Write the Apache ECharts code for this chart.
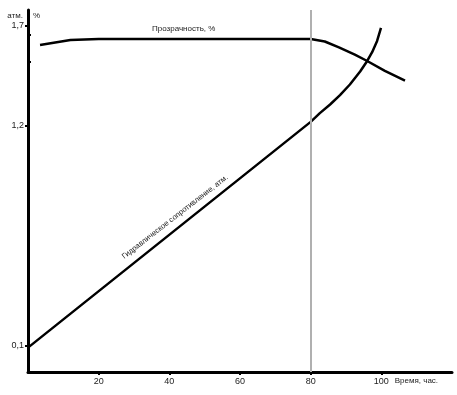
<!DOCTYPE html>
<html>
<head>
<meta charset="utf-8">
<script src="https://cdn.jsdelivr.net/npm/echarts@6/dist/echarts.min.js"></script>
<style>html,body{margin:0;padding:0;background:#fff}#c{width:457px;height:395px}</style>
</head>
<body>
<div id="c"></div>
<script>
// Tick labels
const xTicks = [20, 40, 60, 80, 100];
const atmTicks = [0.1, 1.2, 1.7];
const pctTicks = [90, 100];
// Hydraulic resistance, atm
const hydX = [0, 80, 82.6, 85.5, 88.3, 91.1, 94, 96, 97.4, 98.8, 99.9];
const hydY = [0.09, 1.22, 1.264, 1.307, 1.354, 1.407, 1.472, 1.525, 1.569, 1.625, 1.69];
// Transparency, %
const trX = [3.4, 12, 20, 80, 84, 88, 92.5, 96, 101, 106.7];
const trY = [96.3, 98.2, 98.5, 98.5, 97.6, 95.4, 92.7, 90.3, 86.6, 82.9];
// Vertical marker (time, h)
const markerX = 80;

const FONT = 'Liberation Sans';
const chart = echarts.init(document.getElementById('c'));
const zip = (a, b) => a.map((v, i) => [v, b[i]]);

chart.setOption({
  animation: false,
  backgroundColor: '#fff',
  grid: { left: 28, right: 5, top: 10, bottom: 23 },
  xAxis: {
    type: 'value', min: 0, max: 120,
    name: 'Время, час.', nameLocation: 'end', nameGap: -63,
    nameTextStyle: { fontFamily: FONT, fontSize: 8, color: '#222', align: 'left', verticalAlign: 'top', padding: [5, 0, 0, 0] },
    axisLine: { show: true, onZero: false, lineStyle: { color: '#000', width: 3 } },
    axisTick: { show: true, customValues: xTicks, length: 3, lineStyle: { color: '#000', width: 2 } },
    axisLabel: { customValues: xTicks, margin: 5, fontFamily: FONT, fontSize: 9, color: '#222' },
    splitLine: { show: false }
  },
  yAxis: [
    {
      type: 'value', min: -0.032, max: 1.78, position: 'left',
      name: 'атм.', nameLocation: 'end', nameGap: -10,
      nameTextStyle: { fontFamily: FONT, fontSize: 8, color: '#222', align: 'right', padding: [0, 5, 0, 0] },
      axisLine: { show: true, onZero: false, lineStyle: { color: '#000', width: 3 } },
      axisTick: { show: true, customValues: atmTicks, length: 3, lineStyle: { color: '#000', width: 2 } },
      axisLabel: { customValues: atmTicks, margin: 4, fontFamily: FONT, fontSize: 9, color: '#222',
                   formatter: v => String(v).replace('.', ',') },
      splitLine: { show: false }
    },
    {
      type: 'value', min: -26.2, max: 109.4, position: 'left', offset: 0,
      name: '%', nameLocation: 'end', nameGap: -10,
      nameTextStyle: { fontFamily: FONT, fontSize: 8, color: '#222', align: 'left', padding: [0, 0, 0, 5] },
      axisLine: { show: false },
      axisTick: { show: true, inside: true, customValues: pctTicks, length: 3, lineStyle: { color: '#000', width: 2 } },
      axisLabel: { show: false },
      splitLine: { show: false }
    }
  ],
  graphic: [
    { type: 'text', left: 152, top: 25, z: 10,
      style: { text: 'Прозрачность, %', font: '8px "Liberation Sans"', fill: '#222' } },
    { type: 'text', x: 175, y: 217, rotation: 0.66, z: 10,
      style: { text: 'Гидравлическое сопротивление, атм.', font: '7.6px "Liberation Sans"', fill: '#222',
               align: 'center', verticalAlign: 'middle' } }
  ],
  series: [
    {
      type: 'line', xAxisIndex: 0, yAxisIndex: 0, data: [], z: 1,
      markLine: { silent: true, symbol: 'none', label: { show: false },
                  lineStyle: { color: '#b0b0b0', type: 'solid', width: 2 },
                  data: [{ xAxis: markerX }] }
    },
    {
      name: 'Гидравлическое сопротивление', type: 'line', yAxisIndex: 0, z: 3,
      data: zip(hydX, hydY), showSymbol: false, smooth: false,
      lineStyle: { color: '#000', width: 2.5, join: 'round' }
    },
    {
      name: 'Прозрачность', type: 'line', yAxisIndex: 1, z: 3,
      data: zip(trX, trY), showSymbol: false, smooth: false,
      lineStyle: { color: '#000', width: 2.5, join: 'round' }
    }
  ]
});
</script>
</body>
</html>
